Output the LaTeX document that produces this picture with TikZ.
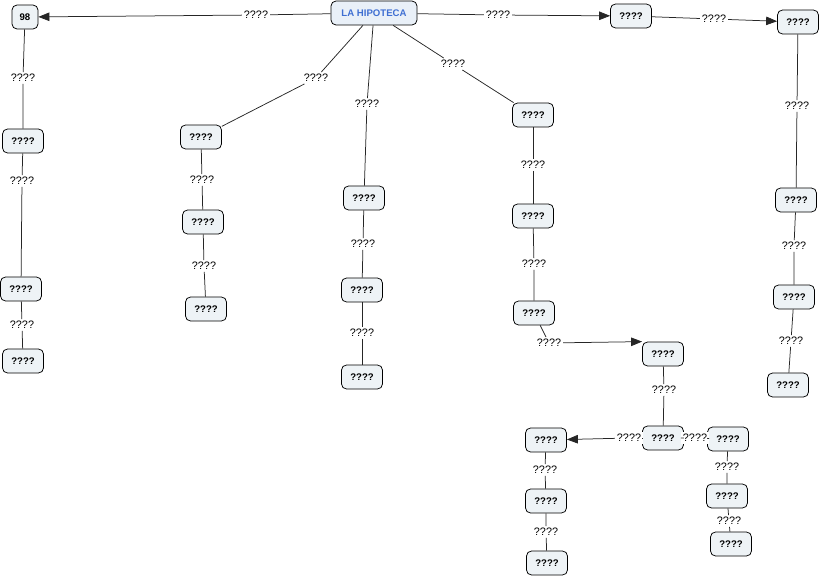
\documentclass[tikz,border=0pt]{standalone}
\usepackage{fontspec}
\setmainfont{Liberation Sans}
\usetikzlibrary{arrows.meta}
\definecolor{cfill}{HTML}{EEF3F6}
\definecolor{rootfill}{HTML}{E9F0F8}
\definecolor{roottext}{HTML}{3F6FD2}
\tikzset{
  concept/.style={draw=black, line width=0.75pt, rounded corners=5pt, fill=cfill,
    font=\bfseries\fontsize{9.6}{11}\selectfont, minimum width=41pt, minimum height=24pt, inner sep=2pt},
  link/.style={fill=white, font=\fontsize{10.8}{12}\selectfont, inner sep=2pt},
  conn/.style={draw=black!85, line width=0.75pt},
  arr/.style={conn, -{Triangle[length=11pt,width=8.5pt]}}
}
\begin{document}
\begin{tikzpicture}[x=1pt,y=-1pt]
  \useasboundingbox (0,0) rectangle (820,578);
  % concepts
  \node[concept, fill=rootfill, text=roottext, minimum width=86pt] (root) at (374,13) {LA HIPOTECA};
  \node[concept, minimum width=26pt] (n98) at (25,17) {98};
  \node[concept] (a1) at (631,16) {????};
  \node[concept] (a2) at (798,22) {????};
  \node[concept] (l1) at (23,141) {????};
  \node[concept] (l2) at (21,289) {????};
  \node[concept] (l3) at (23,361) {????};
  \node[concept] (b1) at (201,137) {????};
  \node[concept] (b2) at (203,222) {????};
  \node[concept] (b3) at (206,309) {????};
  \node[concept] (c1) at (364,198) {????};
  \node[concept] (c2) at (362,290) {????};
  \node[concept] (c3) at (362,377) {????};
  \node[concept] (d1) at (533,115) {????};
  \node[concept] (d2) at (533,216) {????};
  \node[concept] (d3) at (534,313) {????};
  \node[concept] (e1) at (663,354) {????};
  \node[concept] (e2) at (663,438) {????};
  \node[concept] (f1) at (546,440) {????};
  \node[concept] (f2) at (546,501) {????};
  \node[concept] (f3) at (547,563) {????};
  \node[concept] (g1) at (728,439) {????};
  \node[concept] (g2) at (727,496) {????};
  \node[concept] (g3) at (731,544) {????};
  \node[concept] (h1) at (796,200) {????};
  \node[concept] (h2) at (794,297) {????};
  \node[concept] (h3) at (788,385) {????};
  % linking phrases
  \node[link] (k1) at (256,15) {????};
  \node[link] (k2) at (498,15) {????};
  \node[link] (k3) at (714,19) {????};
  \node[link] (k4) at (23,78) {????};
  \node[link] (k5) at (22,181) {????};
  \node[link] (k6) at (22,325) {????};
  \node[link] (k7) at (316,78) {????};
  \node[link] (k8) at (202,180) {????};
  \node[link] (k9) at (204,266) {????};
  \node[link] (k10) at (367,104) {????};
  \node[link] (k11) at (363,244) {????};
  \node[link] (k12) at (362,333) {????};
  \node[link] (k13) at (453,64) {????};
  \node[link] (k14) at (533,165) {????};
  \node[link] (k15) at (534,264) {????};
  \node[link] (k16) at (549,343) {????};
  \node[link] (k17) at (664,390) {????};
  \node[link] (k18) at (629,438) {????};
  \node[link] (k19) at (695,438) {????};
  \node[link] (k20) at (727,467) {????};
  \node[link] (k21) at (729,521) {????};
  \node[link] (k22) at (545,470) {????};
  \node[link] (k23) at (546,532) {????};
  \node[link] (k24) at (797,106) {????};
  \node[link] (k25) at (794,246) {????};
  \node[link] (k26) at (791,341) {????};
  % connectors
  \draw[conn] (root) -- (k1); \draw[arr] (k1) -- (n98);
  \draw[conn] (root) -- (k2); \draw[arr] (k2) -- (a1);
  \draw[conn] (a1) -- (k3); \draw[arr] (k3) -- (a2);
  \draw[conn] (n98) -- (k4) -- (l1);
  \draw[conn] (l1) -- (k5) -- (l2);
  \draw[conn] (l2) -- (k6) -- (l3);
  \draw[conn] (root) -- (k7) -- (b1);
  \draw[conn] (b1) -- (k8) -- (b2);
  \draw[conn] (b2) -- (k9) -- (b3);
  \draw[conn] (root) -- (k10) -- (c1);
  \draw[conn] (c1) -- (k11) -- (c2);
  \draw[conn] (c2) -- (k12) -- (c3);
  \draw[conn] (root) -- (k13) -- (d1);
  \draw[conn] (d1) -- (k14) -- (d2);
  \draw[conn] (d2) -- (k15) -- (d3);
  \draw[conn] (d3) -- (k16); \draw[arr] (k16) -- (e1.north west);
  \draw[conn] (e1) -- (k17) -- (e2);
  \draw[conn] (e2) -- (k18); \draw[arr] (k18) -- (f1);
  \draw[conn] (e2) -- (k19) -- (g1);
  \draw[conn] (g1) -- (k20) -- (g2);
  \draw[conn] (g2) -- (k21) -- (g3);
  \draw[conn] (f1) -- (k22) -- (f2);
  \draw[conn] (f2) -- (k23) -- (f3);
  \draw[conn] (a2) -- (k24) -- (h1);
  \draw[conn] (h1) -- (k25) -- (h2);
  \draw[conn] (h2) -- (k26) -- (h3);
\end{tikzpicture}
\end{document}
